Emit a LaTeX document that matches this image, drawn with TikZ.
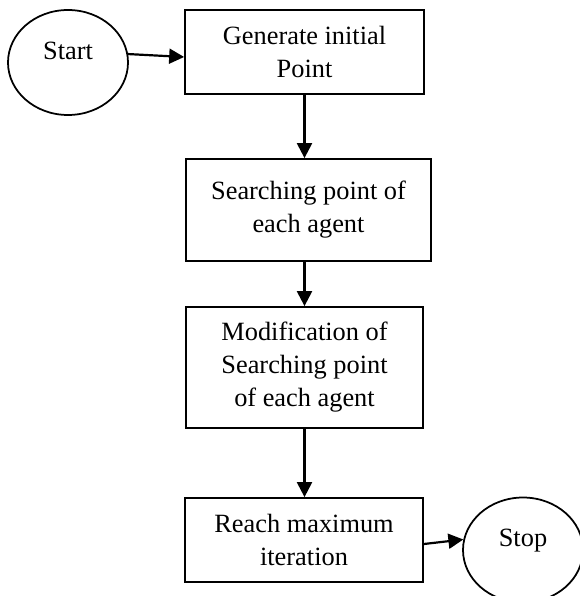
\documentclass[tikz,border=0pt]{standalone}
\usepackage{fontspec}
\setmainfont{Liberation Serif}
\usetikzlibrary{arrows.meta,shapes.geometric}

\begin{document}
\begin{tikzpicture}[
		terminal/.style={draw, ellipse, line width=0.8pt, minimum width=1.92cm, minimum height=1.68cm, inner sep=0pt, text depth=0.38cm, font=\fontsize{12}{15}\selectfont},
		process/.style={draw, rectangle, line width=0.8pt, align=center, inner sep=0pt, font=\fontsize{12}{15}\selectfont},
		flow/.style={line width=1pt, -{Triangle[length=6.8pt,width=6.8pt]}}
	]
			%%%%% START %%%%%
			
			\useasboundingbox (0, 0) rectangle (9.264, -9.536);
			
			\node[terminal] (start) at (1.088, -1.0) {Start};
			\node[process, minimum width=3.824cm, minimum height=1.344cm] (gen) at (4.872, -0.832) {Generate initial\\Point};
			\node[process, minimum width=3.92cm, minimum height=1.632cm] (search) at (4.936, -3.36) {Searching point of\\each agent};
			\node[process, minimum width=3.792cm, minimum height=1.936cm] (modify) at (4.872, -5.88) {Modification of\\Searching point\\of each agent};
			\node[process, minimum width=3.808cm, minimum height=1.344cm] (reach) at (4.864, -8.64) {Reach maximum\\iteration};
			\node[terminal] (stop) at (8.368, -8.8) {Stop};
			
			\draw[flow] (start.8) -- ([yshift=-0.08cm]gen.west);
			\draw[flow] (gen.south) -- (gen.south |- search.north);
			\draw[flow] (modify.north |- search.south) -- (modify.north);
			\draw[flow] (modify.south) -- (modify.south |- reach.north);
			\draw[flow] ([yshift=-0.064cm]reach.east) -- (stop.170);
			
			%%%%% END %%%%%
		\end{tikzpicture}
\end{document}
